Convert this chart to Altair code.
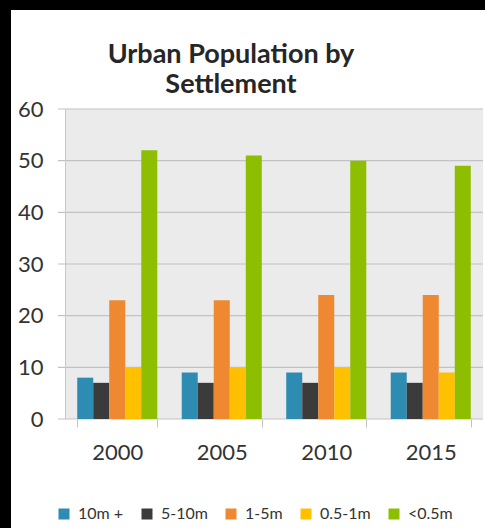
import altair as alt
import pandas as pd

years = ["2000", "2005", "2010", "2015"]
series = ["10m +", "5-10m", "1-5m", "0.5-1m", "<0.5m"]
v_10m_plus = [8, 9, 9, 9]
v_5_10m = [7, 7, 7, 7]
v_1_5m = [23, 23, 24, 24]
v_05_1m = [10, 10, 10, 9]
v_lt_05m = [52, 51, 50, 49]
colors = ["#2e8bb2", "#3b3b3b", "#ee8831", "#ffc000", "#8dbe00"]
y_ticks = [0, 10, 20, 30, 40, 50, 60]

all_vals = [v_10m_plus, v_5_10m, v_1_5m, v_05_1m, v_lt_05m]
rows = []
for s, vals in zip(series, all_vals):
    for yr, v in zip(years, vals):
        rows.append({"year": yr, "series": s, "value": v})
df = pd.DataFrame(rows)

W, H = 418, 310
FONT = "Lato"
TXT = "#333333"

yscale = alt.Scale(domain=[0, 60], nice=False)
yaxis = alt.Axis(values=y_ticks, grid=False, ticks=False, domain=True,
                 domainColor="#c8c8c8", domainWidth=1, labelFont=FONT,
                 labelFontSize=22, labelColor=TXT, labelPadding=22,
                 title=None, zindex=1)

one = pd.DataFrame({"k": [0]})

panel = alt.Chart(one).mark_rect(color="white").encode(
    x=alt.value(-54), x2=alt.value(430), y=alt.value(-99), y2=alt.value(430))

plotbg = alt.Chart(one).mark_rect(color="#ebebeb").encode(
    x=alt.value(0), x2=alt.value(W), y=alt.value(0), y2=alt.value(H))

grid = alt.Chart(pd.DataFrame({"v": y_ticks})).mark_rule(
    color="#c2c2c2", strokeWidth=1.2).encode(
    x=alt.value(-7), x2=alt.value(W),
    y=alt.Y("v:Q", scale=yscale, axis=yaxis))

bars = alt.Chart(df).mark_bar().encode(
    x=alt.X("year:N", sort=years,
            scale=alt.Scale(paddingInner=0.234, paddingOuter=0.117),
            axis=alt.Axis(title=None, labelAngle=0, domain=False, ticks=True,
                          tickBand="extent", tickSize=8, tickColor="#c2c2c2",
                          labelFont=FONT, labelFontSize=22, labelColor=TXT,
                          labelPadding=15, zindex=1)),
    xOffset=alt.XOffset("series:N", sort=series,
                        scale=alt.Scale(paddingInner=0, paddingOuter=0)),
    y=alt.Y("value:Q", scale=yscale, axis=yaxis),
    color=alt.Color("series:N", sort=series,
                    scale=alt.Scale(domain=series, range=colors),
                    legend=alt.Legend(title=None, orient="none", legendX=-9,
                                      legendY=397, direction="horizontal",
                                      symbolType="square", symbolSize=121,
                                      symbolStrokeWidth=0, symbolOpacity=1,
                                      labelFont=FONT, labelFontSize=16,
                                      labelColor=TXT, labelOffset=6,
                                      columnPadding=15, padding=0)),
)

chart = alt.layer(panel, plotbg, grid, bars).properties(
    width=W, height=H,
    autosize=alt.AutoSizeParams(type="none"),
    padding={"left": 65, "top": 109, "right": 2, "bottom": 109},
    title=alt.Title(["Urban Population by", "Settlement"], font=FONT,
                    fontSize=27, fontWeight="bold", color="#262626",
                    anchor="middle", frame="group", dx=-43, dy=103,
                    lineHeight=30, offset=14),
).configure(background="black").configure_view(stroke=None)

chart.save("out.html", embed_options={"renderer": "svg", "actions": False})
